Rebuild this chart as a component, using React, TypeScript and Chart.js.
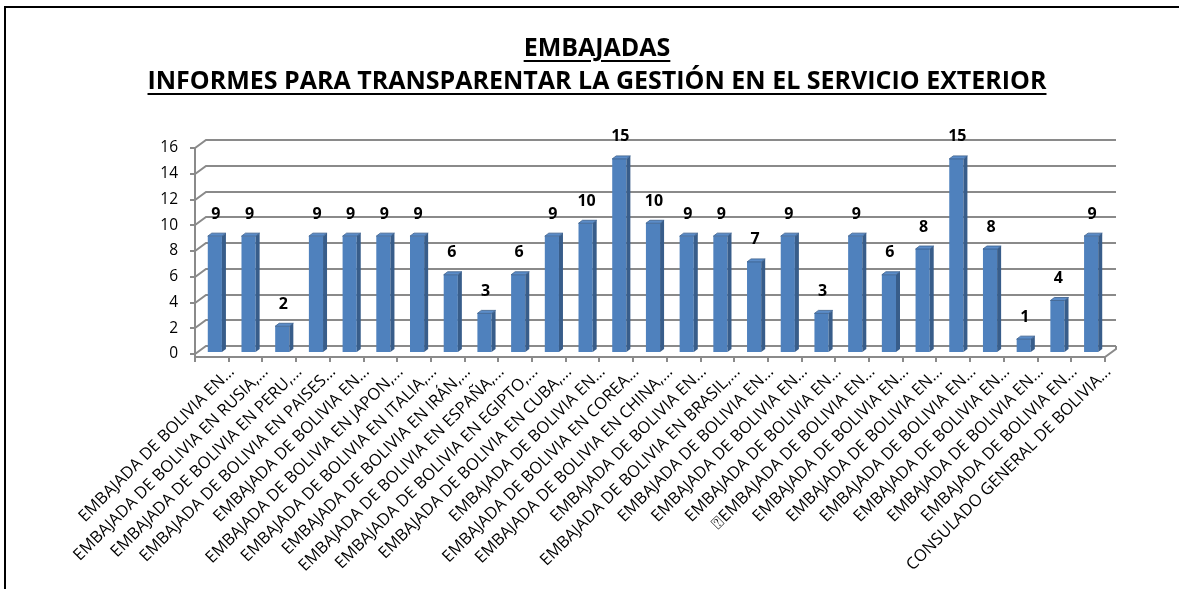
import React, { useEffect, useRef } from "react";
import { Chart, registerables } from "chart.js";

Chart.register(...registerables);

const titleLines = [
  "EMBAJADAS",
  "INFORMES PARA TRANSPARENTAR LA GESTIÓN EN EL SERVICIO EXTERIOR",
];

const categories = [
  "EMBAJADA DE BOLIVIA EN...",
  "EMBAJADA DE BOLIVIA EN RUSIA,...",
  "EMBAJADA DE BOLIVIA EN PERU,...",
  "EMBAJADA DE BOLIVIA EN PAISES...",
  "EMBAJADA DE BOLIVIA EN...",
  "EMBAJADA DE BOLIVIA EN JAPON,...",
  "EMBAJADA DE BOLIVIA EN ITALIA,...",
  "EMBAJADA DE BOLIVIA EN IRÁN,...",
  "EMBAJADA DE BOLIVIA EN ESPAÑA,...",
  "EMBAJADA DE BOLIVIA EN EGIPTO,...",
  "EMBAJADA DE BOLIVIA EN CUBA,...",
  "EMBAJADA DE BOLIVIA EN...",
  "EMBAJADA DE BOLIVIA EN COREA...",
  "EMBAJADA DE BOLIVIA EN CHINA,...",
  "EMBAJADA DE BOLIVIA EN...",
  "EMBAJADA DE BOLIVIA EN BRASIL,...",
  "EMBAJADA DE BOLIVIA EN...",
  "EMBAJADA DE BOLIVIA EN...",
  "EMBAJADA DE BOLIVIA EN...",
  "\u2370EMBAJADA DE BOLIVIA EN...",
  "EMBAJADA DE BOLIVIA EN...",
  "EMBAJADA DE BOLIVIA EN...",
  "EMBAJADA DE BOLIVIA EN...",
  "EMBAJADA DE BOLIVIA EN...",
  "EMBAJADA DE BOLIVIA EN...",
  "EMBAJADA DE BOLIVIA EN...",
  "CONSULADO GENERAL DE BOLIVIA...",
];

const values = [9, 9, 2, 9, 9, 9, 9, 6, 3, 6, 9, 10, 15, 10, 9, 9, 7, 9, 3, 9, 6, 8, 15, 8, 1, 4, 9];

const yTicks = [0, 2, 4, 6, 8, 10, 12, 14, 16];

const W = 1179;
const H = 589;
const FONT = "'Open Sans', 'Noto Sans', sans-serif";

// 3D look parameters
const WALL_DX = 11;
const WALL_DY = -8;
const BAR_SHIFT_X = 3;
const BAR_SHIFT_Y = -2;
const BAR_DEPTH_X = 4;
const BAR_DEPTH_Y = -3;

const GRID = "#8a8a8a";
const FRONT = "#4f81bd";
const SIDE = "#385d8a";
const TOP = "#5b8cc8";

const threeD = {
  id: "threeD",
  beforeDatasetsDraw(chart: any) {
    const { ctx, chartArea: a, scales } = chart;
    const y = scales.y;
    ctx.save();
    ctx.strokeStyle = GRID;
    ctx.lineWidth = 2;
    ctx.lineJoin = "miter";
    for (const v of yTicks) {
      const py = Math.round(y.getPixelForValue(v));
      ctx.beginPath();
      ctx.moveTo(a.left - 5, py);
      ctx.lineTo(a.left, py);
      ctx.lineTo(a.left + WALL_DX, py + WALL_DY);
      ctx.lineTo(a.right + WALL_DX, py + WALL_DY);
      ctx.stroke();
    }
    const floorY = Math.round(y.getPixelForValue(0)) + 3;
    ctx.beginPath();
    ctx.moveTo(a.left, Math.round(y.getPixelForValue(16)));
    ctx.lineTo(a.left, floorY + 1);
    ctx.stroke();
    ctx.beginPath();
    ctx.moveTo(a.left, floorY);
    ctx.lineTo(a.right, floorY);
    ctx.lineTo(a.right + WALL_DX, floorY + WALL_DY);
    ctx.lineTo(a.right + WALL_DX, Math.round(y.getPixelForValue(0)) + WALL_DY);
    ctx.stroke();
    const n = categories.length;
    const step = (a.right - a.left) / n;
    for (let i = 0; i <= n; i++) {
      const px = Math.round(a.left + i * step);
      ctx.beginPath();
      ctx.moveTo(px, floorY);
      ctx.lineTo(px, floorY + 5);
      ctx.stroke();
    }
    ctx.restore();
    ctx.save();
    ctx.translate(BAR_SHIFT_X, BAR_SHIFT_Y);
  },
  afterDatasetsDraw(chart: any) {
    const { ctx } = chart;
    const meta = chart.getDatasetMeta(0);
    meta.data.forEach((el: any) => {
      const { x, y, base, width } = el.getProps(["x", "y", "base", "width"], true);
      const l = x - width / 2;
      const r = x + width / 2;
      ctx.fillStyle = SIDE;
      ctx.beginPath();
      ctx.moveTo(r, y);
      ctx.lineTo(r + BAR_DEPTH_X, y + BAR_DEPTH_Y);
      ctx.lineTo(r + BAR_DEPTH_X, base + BAR_DEPTH_Y);
      ctx.lineTo(r, base);
      ctx.closePath();
      ctx.fill();
      ctx.fillStyle = TOP;
      ctx.beginPath();
      ctx.moveTo(l, y);
      ctx.lineTo(l + BAR_DEPTH_X, y + BAR_DEPTH_Y);
      ctx.lineTo(r + BAR_DEPTH_X, y + BAR_DEPTH_Y);
      ctx.lineTo(r, y);
      ctx.closePath();
      ctx.fill();
      ctx.strokeStyle = SIDE;
      ctx.lineWidth = 0.8;
      ctx.stroke();
    });
    ctx.restore();
    ctx.save();
    ctx.fillStyle = "#000";
    ctx.font = `bold 16px ${FONT}`;
    ctx.textAlign = "center";
    ctx.textBaseline = "middle";
    meta.data.forEach((el: any, i: number) => {
      const { x, y } = el.getProps(["x", "y"], true);
      ctx.fillText(String(values[i]), x + BAR_SHIFT_X + 1, y + BAR_SHIFT_Y - 22);
    });
    ctx.restore();
  },
};

export default function App() {
  const ref = useRef<HTMLCanvasElement | null>(null);
  useEffect(() => {
    if (!ref.current) return;
    const chart = new Chart(ref.current, {
      type: "bar",
      data: {
        labels: categories,
        datasets: [
          {
            data: values,
            backgroundColor: FRONT,
            borderWidth: 0,
            categoryPercentage: 1,
            barPercentage: 0.42,
          },
        ],
      },
      options: {
        responsive: false,
        animation: false,
        events: [],
        layout: { padding: { top: 148, right: 74, left: 0, bottom: 0 } },
        plugins: {
          legend: { display: false },
          title: { display: false },
          tooltip: { enabled: false },
        },
        scales: {
          x: {
            grid: { display: false, drawTicks: false },
            border: { display: false },
            ticks: {
              autoSkip: false,
              maxRotation: 45,
              minRotation: 45,
              color: "#000",
              padding: 8,
              labelOffset: 20,
              font: { family: FONT, size: 16.5 },
            },
            afterFit(s: any) {
              s.height = H - 354;
            },
          },
          y: {
            min: 0,
            max: 16,
            grid: { display: false, drawTicks: false },
            border: { display: false },
            ticks: {
              stepSize: 2,
              color: "#000",
              padding: 17,
              font: { family: FONT, size: 15.5 },
            },
            afterFit(s: any) {
              s.width = 195;
            },
          },
        },
      },
      plugins: [threeD],
    });
    return () => chart.destroy();
  }, []);

  return (
    <div style={{ position: "fixed", left: 0, top: 0, width: W, height: H, background: "#fff", overflow: "hidden" }}>
      <div
        style={{
          position: "absolute",
          left: 4,
          top: 6,
          width: W,
          height: H,
          borderTop: "2px solid #000",
          borderLeft: "2px solid #000",
        }}
      />
      <canvas ref={ref} width={W} height={H} style={{ position: "absolute", left: 0, top: 0 }} />
      <div
        style={{
          position: "absolute",
          left: 0,
          width: 1194,
          top: 30,
          textAlign: "center",
          fontFamily: FONT,
          fontWeight: 700,
          fontSize: 25,
          lineHeight: "33px",
          color: "#000",
          textDecoration: "underline",
          textDecorationThickness: "2px",
          textUnderlineOffset: "4px",
        }}
      >
        {titleLines.map((t, i) => (
          <div key={i}>{t}</div>
        ))}
      </div>
    </div>
  );
}
